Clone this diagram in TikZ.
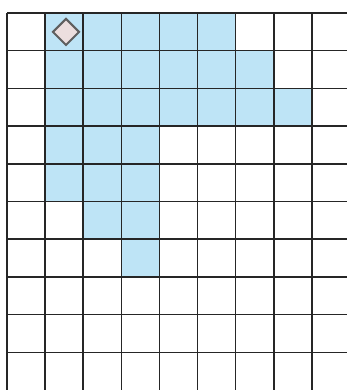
\documentclass[tikz,border=0pt]{standalone}
\usetikzlibrary{shapes.geometric}
\definecolor{cellblue}{RGB}{190,228,246}
\definecolor{markfill}{RGB}{236,222,222}
\definecolor{markline}{RGB}{95,95,95}
\begin{document}
\begin{tikzpicture}[x=1pt,y=-1pt,
  gridline/.style={draw=black!85,line width=1.6pt},
  bluecell/.style={fill=cellblue,draw=none},
  marker/.style={diamond,draw=markline,fill=markfill,line width=2pt,minimum width=27pt,minimum height=27pt,inner sep=0pt}]
\useasboundingbox (0,0) rectangle (347,390);
\fill[white] (0,0) rectangle (347,390);
% shaded cells: row -> first col, last col
\foreach \r/\a/\b in {0/1/5,1/1/6,2/1/7,3/1/3,4/1/3,5/2/3,6/3/3}{
  \fill[cellblue] ({7+38.1*\a},{13+37.7*\r}) rectangle ({7+38.1*(\b+1)},{13+37.7*(\r+1)});
}
% grid
\foreach \i in {0,...,8}{
  \draw[gridline] ({7+38.1*\i},13) -- ({7+38.1*\i},390);
}
\foreach \j in {0,...,9}{
  \draw[gridline] (7,{13+37.7*\j}) -- (347,{13+37.7*\j});
}
\node[marker] (start) at (66,32) {};
\end{tikzpicture}
\end{document}
